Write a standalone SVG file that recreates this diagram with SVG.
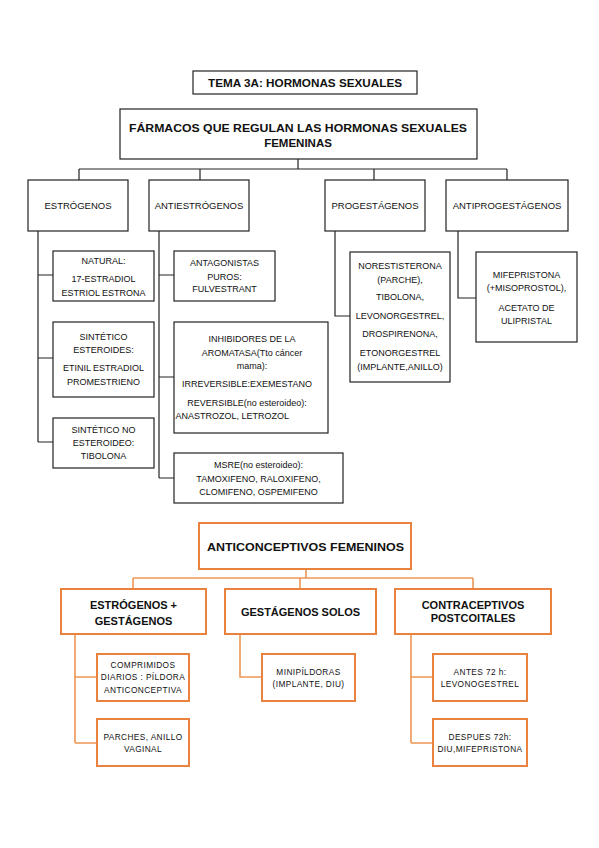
<svg xmlns="http://www.w3.org/2000/svg" width="599" height="848" viewBox="0 0 599 848">
<style>
text{font-family:"Liberation Sans",Arial,sans-serif;fill:#111;text-anchor:middle}
.b{fill:#fff;stroke:#222;stroke-width:1.2}
.o{fill:#fff;stroke:#E9823F;stroke-width:2}
.bl{fill:none;stroke:#222;stroke-width:1.2}
.ol{fill:none;stroke:#EE9656;stroke-width:1.6}
.t1{font-size:11.5px;font-weight:bold}
.t2{font-size:9.5px}
.t3{font-size:9px}
.t4{font-size:8.3px;letter-spacing:0.4px}
.t5{font-size:11px;font-weight:bold}
</style>
<rect width="599" height="848" fill="#fff"/>
<g id="connectors">
<path class="bl" d="M298 159V169M79 169H507M79 169V180M200 169V180M374 169V180M507 169V180"/>
<path class="bl" d="M38 231V442M38 275H53M38 358H53M38 442H53"/>
<path class="bl" d="M159 231V478M159 275H174M159 377H174M159 478H174"/>
<path class="bl" d="M335 231V316H350"/>
<path class="bl" d="M458 231V298H476"/>
<path class="ol" d="M306 569V578M133 578H473M133 578V589M300 578V589M473 578V589"/>
<path class="ol" d="M75 634V743M75 677H97M75 743H97"/>
<path class="ol" d="M240 634V677H262"/>
<path class="ol" d="M411 634V743M411 677H433M411 743H433"/>
</g>
<g id="title"><rect class="b" x="193" y="71" width="224" height="23"/><text class="t5" x="305" y="87" textLength="194" lengthAdjust="spacingAndGlyphs">TEMA 3A: HORMONAS SEXUALES</text></g>
<g id="main"><rect class="b" x="120" y="109" width="357" height="50"/><text class="t1" x="298" y="132" textLength="338" lengthAdjust="spacingAndGlyphs">FÁRMACOS QUE REGULAN LAS HORMONAS SEXUALES</text><text class="t1" x="298" y="147">FEMENINAS</text></g>
<g id="estrogenos"><rect class="b" x="28" y="180" width="100" height="51"/><text class="t2" x="78" y="208.5">ESTRÓGENOS</text></g>
<g id="antiestrogenos"><rect class="b" x="149" y="180" width="100" height="51"/><text class="t2" x="199" y="208.5">ANTIESTRÓGENOS</text></g>
<g id="progestagenos"><rect class="b" x="325" y="180" width="100" height="51"/><text class="t2" x="375" y="208.5">PROGESTÁGENOS</text></g>
<g id="antiprogestagenos"><rect class="b" x="446" y="180" width="122" height="51"/><text class="t2" x="507" y="208.5">ANTIPROGESTÁGENOS</text></g>
<g id="natural"><rect class="b" x="53" y="251" width="101" height="50"/><text class="t3" x="103.5" y="264">NATURAL:</text><text class="t3" x="103.5" y="282">17-ESTRADIOL</text><text class="t3" x="103.5" y="296">ESTRIOL ESTRONA</text></g>
<g id="sintetico-esteroides"><rect class="b" x="53" y="322" width="101" height="75"/><text class="t3" x="103.5" y="340">SINTÉTICO</text><text class="t3" x="103.5" y="353">ESTEROIDES:</text><text class="t3" x="103.5" y="371">ETINIL ESTRADIOL</text><text class="t3" x="103.5" y="385">PROMESTRIENO</text></g>
<g id="sintetico-no"><rect class="b" x="53" y="418" width="101" height="50"/><text class="t3" x="103.5" y="433">SINTÉTICO NO</text><text class="t3" x="103.5" y="446">ESTEROIDEO:</text><text class="t3" x="103.5" y="459">TIBOLONA</text></g>
<g id="antagonistas"><rect class="b" x="174" y="251" width="101" height="50"/><text class="t3" x="224.5" y="266">ANTAGONISTAS</text><text class="t3" x="224.5" y="280">PUROS:</text><text class="t3" x="224.5" y="292">FULVESTRANT</text></g>
<g id="inhibidores"><rect class="b" x="174" y="322" width="154" height="111"/><text class="t3" x="252" y="342">INHIBIDORES DE LA</text><text class="t3" x="252" y="356">AROMATASA(Tto cáncer</text><text class="t3" x="252" y="369">mama):</text><text class="t3" x="247" y="387">IRREVERSIBLE:EXEMESTANO</text><text class="t3" x="247" y="406">REVERSIBLE(no esteroideo):</text><text class="t3" x="175.5" y="419" style="text-anchor:start">ANASTROZOL, LETROZOL</text></g>
<g id="msre"><rect class="b" x="174" y="453" width="169" height="50"/><text class="t3" x="258.5" y="468">MSRE(no esteroideo):</text><text class="t3" x="258.5" y="482">TAMOXIFENO, RALOXIFENO,</text><text class="t3" x="258.5" y="495">CLOMIFENO, OSPEMIFENO</text></g>
<g id="progest-list"><rect class="b" x="350" y="252" width="100" height="130"/><text class="t3" x="400" y="269">NORESTISTERONA</text><text class="t3" x="400" y="283">(PARCHE),</text><text class="t3" x="400" y="300">TIBOLONA,</text><text class="t3" x="400" y="319">LEVONORGESTREL,</text><text class="t3" x="400" y="337">DROSPIRENONA,</text><text class="t3" x="400" y="356">ETONORGESTREL</text><text class="t3" x="400" y="370">(IMPLANTE,ANILLO)</text></g>
<g id="antiprog-list"><rect class="b" x="476" y="252" width="101" height="90"/><text class="t3" x="526.5" y="278">MIFEPRISTONA</text><text class="t3" x="526.5" y="291">(+MISOPROSTOL),</text><text class="t3" x="526.5" y="311">ACETATO DE</text><text class="t3" x="526.5" y="324">ULIPRISTAL</text></g>
<g id="anticonceptivos"><rect class="o" x="199" y="523" width="212" height="46"/><text class="t5" x="305.5" y="551" textLength="197" lengthAdjust="spacingAndGlyphs">ANTICONCEPTIVOS FEMENINOS</text></g>
<g id="estro-gesta"><rect class="o" x="61" y="589" width="145" height="45"/><text class="t5" x="133.5" y="609">ESTRÓGENOS +</text><text class="t5" x="133.5" y="625">GESTÁGENOS</text></g>
<g id="gestagenos-solos"><rect class="o" x="225" y="589" width="151" height="45"/><text class="t5" x="300.5" y="616">GESTÁGENOS SOLOS</text></g>
<g id="postcoitales"><rect class="o" x="395" y="589" width="156" height="45"/><text class="t5" x="473" y="609">CONTRACEPTIVOS</text><text class="t5" x="473" y="622">POSTCOITALES</text></g>
<g id="comprimidos"><rect class="o" x="97" y="654" width="92" height="47"/><text class="t4" x="143" y="668">COMPRIMIDOS</text><text class="t4" x="143" y="680">DIARIOS : PÍLDORA</text><text class="t4" x="143" y="693">ANTICONCEPTIVA</text></g>
<g id="parches"><rect class="o" x="97" y="719" width="92" height="47"/><text class="t4" x="143" y="740">PARCHES, ANILLO</text><text class="t4" x="143" y="752">VAGINAL</text></g>
<g id="minipildoras"><rect class="o" x="262" y="654" width="93" height="47"/><text class="t4" x="308.5" y="674.5">MINIPÍLDORAS</text><text class="t4" x="308.5" y="687">(IMPLANTE, DIU)</text></g>
<g id="antes72"><rect class="o" x="433" y="654" width="94" height="47"/><text class="t4" x="480" y="674.5">ANTES 72 h:</text><text class="t4" x="480" y="687">LEVONOGESTREL</text></g>
<g id="despues72"><rect class="o" x="433" y="719" width="94" height="47"/><text class="t4" x="480" y="740">DESPUES 72h:</text><text class="t4" x="480" y="752">DIU,MIFEPRISTONA</text></g>
</svg>
